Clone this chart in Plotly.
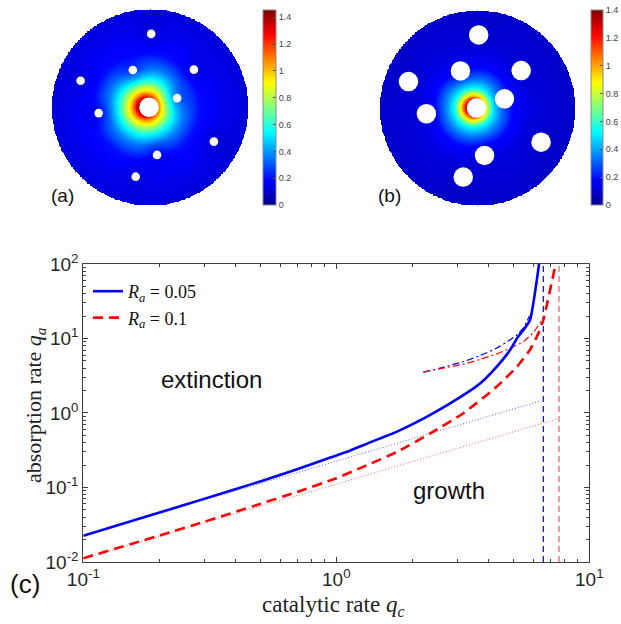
import numpy as np
import plotly.graph_objects as go

W, H = 621, 624

# ---------------- data: panel (c) curves ----------------
blue_qc = [0.1, 0.2, 0.3, 0.5, 0.7, 0.947, 1.136, 1.282, 1.738, 2.352, 3.19, 3.71, 4.31, 4.87, 5.18, 5.5, 5.83, 6.33]
blue_qa = [0.0225, 0.0459, 0.0702, 0.1203, 0.175, 0.2515, 0.313, 0.372, 0.562, 0.942, 1.75, 2.51, 4.2, 7.05, 10.1, 13.1, 17.7, 100]

red_qc = [0.1, 0.2, 0.3, 0.5, 0.7, 1.0, 1.282, 1.738, 2.352, 3.19, 4.31, 5.18, 5.83, 6.3, 6.58, 7.36]
red_qa = [0.0112, 0.0226, 0.0345, 0.06, 0.087, 0.133, 0.19, 0.3, 0.53, 1.0, 2.26, 4.2, 7.05, 11.8, 17.7, 100]

blue_dot_qc = [0.1, 6.43]
blue_dot_qa = [0.0225, 1.45]
red_dot_qc = [0.1, 7.43]
red_dot_qa = [0.0111, 0.826]

blue_dd_qc = [2.21, 2.6, 3.19, 3.7, 4.31, 4.8, 5.18, 5.5, 5.8]
blue_dd_qa = [3.53, 4.05, 4.91, 5.9, 7.43, 9.3, 11.2, 14.0, 20.0]
red_dd_qc = [2.21, 2.6, 3.19, 3.7, 4.31, 4.9, 5.5, 6.0, 6.58]
red_dd_qa = [3.53, 3.95, 4.53, 5.25, 6.22, 7.5, 9.12, 12.0, 18.6]

blue_vline_qc = 6.58
red_vline_qc = 7.59

x_tickvals = [0.1, 1, 10]
x_ticktext = ["10<sup>-1</sup>", "10<sup>0</sup>", "10<sup>1</sup>"]
y_tickvals = [0.01, 0.1, 1, 10, 100]
y_ticktext = ["10<sup>-2</sup>", "10<sup>-1</sup>", "10<sup>0</sup>", "10<sup>1</sup>", "10<sup>2</sup>"]

# ---------------- data: panels (a),(b) fields ----------------
hole_x = [0.012, -0.175, 0.448, -0.708, 0.277, -0.524, 0.652, 0.072, -0.146]
hole_y = [0.749, 0.380, 0.384, 0.271, 0.094, -0.059, -0.350, -0.486, -0.708]
center_hole = (-0.01, 0.0)
center_hole_r = 0.1
small_hole_r_a = 0.044
small_hole_r_b = 0.10

# radial concentration profiles
prof_r_a = [0.0, 0.07, 0.1, 0.13, 0.175, 0.23, 0.29, 0.39, 0.54, 0.8, 1.0, 1.5]
prof_c_a = [1.45, 1.42, 1.28, 1.1, 0.91, 0.73, 0.545, 0.36, 0.2, 0.15, 0.12, 0.1]
prof_r_b = [0.0, 0.07, 0.1, 0.135, 0.2, 0.29, 0.41, 0.6, 1.0, 1.5]
prof_c_b = [1.35, 1.3, 1.1, 0.875, 0.525, 0.35, 0.18, 0.12, 0.09, 0.08]

cbar_ticks = [0, 0.2, 0.4, 0.6, 0.8, 1, 1.2, 1.4]
cbar_text = ["0", "0.2", "0.4", "0.6", "0.8", "1", "1.2", "1.4"]

jet = [[0, "rgb(0,0,143)"], [0.125, "rgb(0,0,255)"], [0.375, "rgb(0,255,255)"],
       [0.625, "rgb(255,255,0)"], [0.875, "rgb(255,0,0)"], [1, "rgb(128,0,0)"]]


def field(prof_r, prof_c, shadow):
    g = np.linspace(-1, 1, 281)
    X, Y = np.meshgrid(g, g)
    d = np.hypot(X - (center_hole[0] - 0.03), Y - (center_hole[1] + 0.005))
    z = np.interp(d, prof_r, prof_c)
    for hx, hy in zip(hole_x, hole_y):
        dh = np.hypot(X - hx, Y - hy)
        z = z * (1 - shadow * np.exp(-(dh / 0.14) ** 2))
    z[np.hypot(X, Y) > 1.0] = np.nan
    return g, np.round(z, 3)


def px_x(p):
    return p / W


def px_y(p):
    return 1 - p / H


fig = go.Figure()

ga, za = field(prof_r_a, prof_c_a, 0.25)
gb, zb = field(prof_r_b, prof_c_b, 0.2)

cb_common = dict(yanchor="middle", xanchor="left", lenmode="pixels", len=195, thicknessmode="pixels",
                 xpad=0, ypad=0, outlinewidth=1, outlinecolor="#8a8a8a",
                 tickvals=cbar_ticks, ticktext=cbar_text, ticks="inside", ticklen=3, tickcolor="#555",
                 tickfont=dict(size=9, color="#404040", family="Liberation Sans"))

fig.add_trace(go.Heatmap(x=ga, y=ga, z=za, colorscale=jet, zmin=0, zmax=1.454,
                         xaxis="x", yaxis="y", hoverinfo="skip",
                         colorbar=dict(x=px_x(263), y=px_y(107.5), thickness=13, **cb_common)))
fig.add_trace(go.Heatmap(x=gb, y=gb, z=zb, colorscale=jet, zmin=0, zmax=1.4,
                         xaxis="x2", yaxis="y2", hoverinfo="skip",
                         colorbar=dict(x=px_x(591), y=px_y(107.5), thickness=12, **cb_common)))

shapes = []
for xr, yr, rs in (("x", "y", small_hole_r_a), ("x2", "y2", small_hole_r_b)):
    for hx, hy in zip(hole_x, hole_y):
        shapes.append(dict(type="circle", xref=xr, yref=yr, x0=hx - rs, x1=hx + rs, y0=hy - rs, y1=hy + rs,
                           fillcolor="white", line=dict(width=0)))
    cx, cy = center_hole
    shapes.append(dict(type="circle", xref=xr, yref=yr, x0=cx - center_hole_r, x1=cx + center_hole_r,
                       y0=cy - center_hole_r, y1=cy + center_hole_r, fillcolor="white", line=dict(width=0)))

# ---------------- panel (c) traces ----------------
fig.add_trace(go.Scatter(x=blue_dot_qc, y=blue_dot_qa, mode="lines", xaxis="x3", yaxis="y3", showlegend=False,
                         line=dict(color="rgba(40,40,255,0.75)", width=1, dash="1px,2px")))
fig.add_trace(go.Scatter(x=red_dot_qc, y=red_dot_qa, mode="lines", xaxis="x3", yaxis="y3", showlegend=False,
                         line=dict(color="rgba(255,40,40,0.7)", width=1, dash="1px,2px")))
fig.add_trace(go.Scatter(x=blue_dd_qc, y=blue_dd_qa, mode="lines", xaxis="x3", yaxis="y3", showlegend=False,
                         line=dict(color="rgb(0,0,255)", width=1.2, dash="7px,3px,2px,3px", shape="spline",
                                   smoothing=0.6)))
fig.add_trace(go.Scatter(x=red_dd_qc, y=red_dd_qa, mode="lines", xaxis="x3", yaxis="y3", showlegend=False,
                         line=dict(color="rgb(255,0,0)", width=1.2, dash="7px,3px,2px,3px", shape="spline",
                                   smoothing=0.6)))
fig.add_trace(go.Scatter(x=[blue_vline_qc, blue_vline_qc], y=[0.01, 100], mode="lines", xaxis="x3", yaxis="y3",
                         showlegend=False, line=dict(color="rgb(0,0,200)", width=1.2, dash="6px,4px")))
fig.add_trace(go.Scatter(x=[red_vline_qc, red_vline_qc], y=[0.01, 100], mode="lines", xaxis="x3", yaxis="y3",
                         showlegend=False, line=dict(color="rgba(240,60,70,0.85)", width=1.2, dash="6px,4px")))
fig.add_trace(go.Scatter(x=blue_qc, y=blue_qa, mode="lines", xaxis="x3", yaxis="y3",
                         name="<i>R</i><sub><i>a</i></sub> = 0.05",
                         line=dict(color="rgb(0,0,255)", width=2.6, shape="spline", smoothing=0.5)))
fig.add_trace(go.Scatter(x=red_qc, y=red_qa, mode="lines", xaxis="x3", yaxis="y3",
                         name="<i>R</i><sub><i>a</i></sub> = 0.1",
                         line=dict(color="rgb(255,0,0)", width=2.6, dash="10px,6px", shape="spline",
                                   smoothing=0.5)))

hidden = dict(visible=False, range=[-1, 1], fixedrange=True)
axcol = "#404040"
minor_x = [0.2, 0.3, 0.4, 0.5, 0.6, 0.7, 0.8, 0.9, 2, 3, 4, 5, 6, 7, 8, 9]
minor_y = [0.02, 0.03, 0.04, 0.05, 0.06, 0.07, 0.08, 0.09, 0.2, 0.3, 0.4, 0.5, 0.6, 0.7, 0.8, 0.9,
           2, 3, 4, 5, 6, 7, 8, 9, 20, 30, 40, 50, 60, 70, 80, 90]
tickfont = dict(family="Liberation Sans", size=19, color="#262626")

fig.update_layout(
    width=W, height=H, margin=dict(l=0, r=0, t=0, b=0, pad=0, autoexpand=False),
    paper_bgcolor="white", plot_bgcolor="white",
    xaxis=dict(domain=[px_x(52), px_x(248)], **hidden),
    yaxis=dict(domain=[px_y(205.3), px_y(9.3)], **hidden),
    xaxis2=dict(domain=[px_x(380), px_x(575)], **hidden),
    yaxis2=dict(domain=[px_y(205.5), px_y(10.5)], **hidden),
    xaxis3=dict(domain=[px_x(83.3), px_x(589.3)], type="log", range=[-1, 1], anchor="y3", automargin=False,
                showline=True, linecolor=axcol, linewidth=1, mirror="allticks", showgrid=False, zeroline=False,
                tickmode="array", tickvals=x_tickvals, ticktext=x_ticktext, ticks="inside", ticklen=5,
                tickcolor=axcol, tickfont=tickfont,
                minor=dict(tickmode="array", tickvals=minor_x, ticks="inside", ticklen=3, tickcolor=axcol,
                           showgrid=False)),
    yaxis3=dict(domain=[px_y(561.9), px_y(264)], type="log", range=[-2, 2], anchor="x3", automargin=False,
                showline=True, linecolor=axcol, linewidth=1, mirror="allticks", showgrid=False, zeroline=False,
                tickmode="array", tickvals=y_tickvals, ticktext=y_ticktext, ticks="inside", ticklen=5,
                tickcolor=axcol, tickfont=tickfont,
                minor=dict(tickmode="array", tickvals=minor_y, ticks="inside", ticklen=3, tickcolor=axcol,
                           showgrid=False)),
    shapes=shapes,
    showlegend=True,
    legend=dict(x=px_x(88), y=px_y(273), xanchor="left", yanchor="top", bgcolor="rgba(0,0,0,0)",
                borderwidth=0, font=dict(family="Liberation Serif", size=18, color="#111"),
                itemwidth=30, tracegroupgap=0),
)

ann = [
    dict(text="(a)", x=px_x(62), y=px_y(195), font=dict(size=19, family="Liberation Sans", color="#111")),
    dict(text="(b)", x=px_x(389), y=px_y(195), font=dict(size=19, family="Liberation Sans", color="#111")),
    dict(text="(c)", x=px_x(25), y=px_y(584), font=dict(size=26, family="Liberation Sans", color="#111")),
    dict(text="extinction", x=px_x(211), y=px_y(380), font=dict(size=24, family="Liberation Sans", color="#111")),
    dict(text="growth", x=px_x(449), y=px_y(490), font=dict(size=24, family="Liberation Sans", color="#111")),
    dict(text="catalytic rate <i>q</i><sub><i>c</i></sub>", x=px_x(334), y=px_y(606),
         font=dict(size=23, family="Liberation Serif", color="#222")),
    dict(text="absorption rate <i>q</i><sub><i>a</i></sub>", x=px_x(35), y=px_y(405), textangle=-90,
         font=dict(size=22, family="Liberation Serif", color="#222")),
]
for a in ann:
    a.update(xref="paper", yref="paper", showarrow=False, xanchor="center", yanchor="middle")
fig.update_layout(annotations=ann)

fig.write_html("out.html", config={"displayModeBar": False},
               post_script="document.body.style.margin='0';document.body.style.overflow='hidden';")
